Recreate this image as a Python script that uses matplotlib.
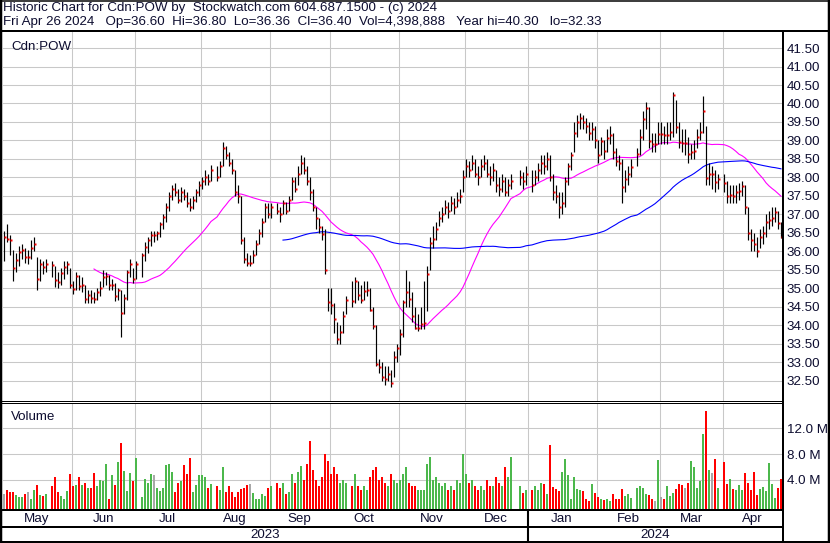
import numpy as np
import pandas as pd
import matplotlib
matplotlib.use("Agg")
import matplotlib.pyplot as plt
from matplotlib.lines import Line2D

plt.rcParams['font.family'] = ['Liberation Sans', 'DejaVu Sans']

# ---------------- data ----------------
holidays = ["2023-05-22", "2023-07-03", "2023-08-07", "2023-09-04", "2023-10-09",
            "2023-12-25", "2023-12-26", "2024-01-01", "2024-02-19", "2024-03-29"]
weekdays = pd.bdate_range("2023-05-01", "2024-04-26")
N = None

close = [
    36.38, 36.33, 36.30, 35.56, 35.76, 35.98, 36.05, 35.85, 35.85, 36.10,
    36.20, 35.25, 35.67, 35.58, 35.65, N, 35.63, 35.22, 35.18, 35.42,
    35.58, 35.65, 35.10, 34.98, 35.34, 35.06, 35.10, 34.71, 34.82, 34.74,
    34.71, 34.89, 35.01, 35.31, 35.33, 35.09, 35.10, 34.80, 34.95, 34.34,
    34.74, 35.44, 35.67, 35.25, 35.65, N, 35.91, 36.12, 36.32, 36.45,
    36.45, 36.50, 36.73, 36.93, 37.20, 37.50, 37.70, 37.60, 37.40, 37.60,
    37.50, 37.30, 37.20, 37.40, 37.60, 37.80, 37.90, 38.00, 37.90, 38.20,
    N, 38.00, 38.30, 38.80, 38.60, 38.40, 38.20, 37.60, 37.50, 36.30,
    35.80, 35.70, 35.70, 35.90, 36.20, 36.50, 36.80, 37.20, 37.00, 37.20,
    N, 37.10, 37.00, 37.30, 37.10, 37.40, 37.90, 37.70, 38.10, 38.40,
    38.20, 37.90, 37.60, 37.20, 36.90, 36.67, 36.46, 35.49, 34.64, 34.55,
    34.17, 33.63, 33.83, 34.26, 34.68, N, 34.66, 35.20, 34.82, 34.68,
    34.93, 34.96, 34.41, 33.98, 32.96, 32.87, 32.60, 32.55, 32.68, 32.45,
    33.15, 33.40, 33.77, 34.64, 34.91, 34.71, 34.25, 33.92, 33.93, 34.05,
    34.06, 35.40, 36.23, 36.33, 36.60, 36.90, 37.00, 37.20, 37.10, 37.30,
    37.20, 37.40, 37.50, 38.00, 38.30, 38.20, 38.40, 38.10, 38.00, 38.30,
    38.40, 38.10, 38.00, 38.20, 37.80, 37.70, 37.90, 37.60, 37.80, 37.90,
    N, N, 38.00, 37.90, 38.10, N, 37.80, 38.00, 38.20, 38.40,
    38.30, 38.50, 38.00, 37.60, 37.50, 37.20, 37.30, 37.90, 38.30, 38.60,
    39.20, 39.50, 39.60, 39.50, 39.40, 39.20, 39.30, 39.00, 38.60, 38.99,
    38.72, 39.07, 39.14, 38.69, 38.45, 38.40, 37.73, 37.96, 38.10, 38.29,
    N, 38.64, 39.10, 39.58, 39.89, 38.99, 38.90, 38.90, 39.17, 39.17,
    39.14, 39.15, 39.23, 40.22, 39.36, 38.97, 38.93, 38.93, 38.63, 38.70,
    38.72, 39.10, 39.23, 39.80, 37.98, 38.10, 38.10, 37.87, 37.96, N,
    37.85, 37.51, 37.53, 37.50, 37.60, 37.63, 37.78, 37.20, 36.50, 36.30,
    36.20, 36.00, 36.40, 36.50, 36.80, 36.84, 36.90, 37.07, 36.76, 36.40,
]

high = [
    36.55, 36.75, 36.45, 36.05, 35.95, 36.15, 36.20, 36.10, 36.05, 36.30,
    36.40, 35.85, 35.80, 35.75, 35.80, N, 35.75, 35.60, 35.45, 35.55,
    35.75, 35.75, 35.55, 35.20, 35.45, 35.35, 35.30, 35.10, 34.95, 34.95,
    34.90, 35.00, 35.20, 35.50, 35.45, 35.35, 35.25, 35.15, 35.00, 34.95,
    34.85, 35.50, 35.80, 35.55, 35.75, N, 35.95, 36.25, 36.40, 36.55,
    36.55, 36.55, 36.80, 37.00, 37.30, 37.60, 37.80, 37.85, 37.70, 37.75,
    37.70, 37.60, 37.45, 37.50, 37.70, 37.90, 38.00, 38.20, 38.10, 38.35,
    N, 38.30, 38.45, 38.95, 38.85, 38.70, 38.50, 38.20, 37.80, 37.50,
    36.40, 35.95, 35.90, 36.05, 36.30, 36.60, 36.90, 37.30, 37.30, 37.30,
    N, 37.30, 37.20, 37.40, 37.35, 37.50, 38.00, 38.00, 38.30, 38.60,
    38.55, 38.30, 38.00, 37.70, 37.20, 36.90, 36.70, 36.60, 35.00, 35.00,
    34.60, 34.10, 34.00, 34.40, 34.80, N, 35.20, 35.30, 35.20, 35.10,
    35.20, 35.20, 35.00, 34.50, 34.00, 33.10, 33.00, 32.90, 32.90, 32.80,
    33.30, 33.50, 33.90, 34.70, 35.50, 35.20, 34.90, 34.50, 34.30, 34.50,
    35.20, 35.60, 36.40, 36.70, 36.80, 37.10, 37.20, 37.40, 37.35, 37.50,
    37.45, 37.60, 37.70, 38.20, 38.50, 38.45, 38.60, 38.50, 38.30, 38.50,
    38.60, 38.50, 38.30, 38.40, 38.20, 38.00, 38.10, 38.00, 37.95, 38.10,
    N, N, 38.20, 38.15, 38.30, N, 38.20, 38.20, 38.40, 38.60,
    38.60, 38.70, 38.60, 38.10, 37.80, 37.60, 37.60, 38.00, 38.40, 38.70,
    39.50, 39.70, 39.75, 39.70, 39.60, 39.50, 39.50, 39.40, 39.00, 39.10,
    39.00, 39.30, 39.40, 39.20, 38.80, 38.60, 38.50, 38.20, 38.30, 38.50,
    N, 38.80, 39.30, 39.80, 40.05, 39.90, 39.20, 39.20, 39.50, 39.50,
    39.40, 39.50, 39.50, 40.30, 40.10, 39.50, 39.30, 39.30, 39.10, 38.90,
    39.00, 39.30, 39.50, 40.20, 39.40, 38.40, 38.30, 38.20, 38.10, N,
    38.10, 37.90, 37.80, 37.80, 37.80, 37.85, 37.90, 37.80, 37.20, 36.60,
    36.50, 36.40, 36.60, 36.70, 37.00, 37.10, 37.20, 37.20, 37.10, 36.80,
]

low = [
    35.75, 36.25, 35.90, 35.20, 35.45, 35.60, 35.80, 35.70, 35.65, 35.80,
    36.00, 34.95, 35.20, 35.40, 35.45, N, 35.30, 35.05, 35.00, 35.10,
    35.25, 35.40, 35.00, 34.85, 34.95, 34.95, 34.90, 34.60, 34.60, 34.60,
    34.60, 34.70, 34.80, 35.05, 35.10, 34.95, 34.95, 34.65, 34.70, 33.70,
    34.30, 34.70, 35.30, 35.15, 35.25, N, 35.30, 35.75, 35.95, 36.15,
    36.25, 36.30, 36.40, 36.60, 36.80, 37.10, 37.40, 37.50, 37.30, 37.35,
    37.40, 37.20, 37.10, 37.15, 37.35, 37.50, 37.70, 37.80, 37.80, 37.90,
    N, 37.90, 38.00, 38.30, 38.50, 38.30, 38.10, 37.50, 37.30, 36.20,
    35.70, 35.60, 35.60, 35.70, 35.90, 36.20, 36.40, 36.80, 36.90, 36.90,
    N, 37.00, 36.80, 37.00, 37.00, 37.10, 37.40, 37.60, 37.80, 38.10,
    38.10, 37.80, 37.40, 37.10, 36.60, 36.50, 36.30, 35.40, 34.40, 34.30,
    33.80, 33.50, 33.50, 33.80, 34.30, N, 34.50, 34.60, 34.70, 34.60,
    34.70, 34.80, 34.40, 33.90, 32.90, 32.70, 32.50, 32.40, 32.50, 32.33,
    32.60, 33.00, 33.20, 33.70, 34.50, 34.50, 34.10, 33.90, 33.85, 33.90,
    33.90, 34.40, 35.50, 36.10, 36.30, 36.70, 36.80, 37.00, 36.90, 37.10,
    37.00, 37.20, 37.30, 37.60, 38.00, 38.00, 38.20, 38.00, 37.80, 38.00,
    38.20, 38.00, 37.80, 37.90, 37.60, 37.50, 37.60, 37.50, 37.50, 37.70,
    N, N, 37.80, 37.70, 37.80, N, 37.60, 37.80, 37.90, 38.10,
    38.10, 38.20, 37.90, 37.40, 37.30, 36.90, 37.00, 37.20, 37.80, 38.20,
    38.70, 39.10, 39.30, 39.30, 39.20, 39.00, 39.00, 38.80, 38.40, 38.60,
    38.50, 38.70, 38.90, 38.50, 38.30, 38.20, 37.30, 37.60, 37.80, 38.00,
    N, 38.30, 38.60, 39.00, 39.30, 38.80, 38.70, 38.70, 38.90, 38.90,
    38.90, 38.90, 39.00, 39.10, 39.20, 38.80, 38.70, 38.60, 38.40, 38.50,
    38.50, 38.80, 39.00, 39.20, 37.80, 37.80, 37.70, 37.60, 37.70, N,
    37.60, 37.30, 37.30, 37.30, 37.30, 37.40, 37.50, 37.00, 36.30, 36.00,
    36.00, 35.85, 36.10, 36.20, 36.40, 36.60, 36.70, 36.80, 36.60, 36.36,
]

volume_m = [
    1.9, 2.4, 2.2, 2.2, 1.6, 1.3, 1.3, 1.8, 2.1, 1.0,
    2.5, 3.3, 1.6, 1.5, 1.9, N, 3.1, 4.4, 2.1, 1.5,
    1.0, 2.3, 5.0, 3.0, 3.2, 4.4, 3.3, 3.5, 2.7, 2.8,
    5.1, 3.0, 4.0, 3.9, 6.5, 1.0, 4.8, 3.3, 6.8, 9.7,
    5.4, 2.3, 5.1, 3.9, 7.4, N, 1.3, 4.1, 3.6, 5.0,
    4.7, 2.8, 2.3, 2.8, 6.3, 6.5, 5.3, 2.1, 3.6, 3.9,
    6.4, 5.0, 7.4, 2.1, 3.3, 4.8, 4.8, 4.5, 2.7, 3.4,
    N, 3.0, 2.4, 6.0, 2.2, 3.0, 2.1, 1.3, 2.2, 2.6,
    2.8, 3.3, 3.4, 2.0, 1.0, 1.1, 1.9, 1.5, 2.8, 3.1,
    N, 3.6, 2.7, 3.6, 1.9, 2.1, 4.9, 3.6, 5.2, 6.1,
    4.0, 6.5, 10.0, 5.5, 4.0, 3.0, 4.5, 8.0, 7.0, 5.0,
    6.0, 5.0, 3.5, 4.0, 3.5, N, 3.0, 5.0, 3.0, 2.5,
    3.0, 2.5, 4.5, 5.5, 6.0, 4.0, 4.5, 3.5, 3.0, 5.0,
    4.0, 3.5, 4.0, 5.0, 6.0, 3.5, 3.0, 3.0, 2.5, 2.5,
    2.5, 6.5, 7.5, 4.0, 4.5, 3.5, 3.0, 3.5, 2.5, 3.0,
    2.5, 4.0, 3.5, 8.0, 5.0, 3.5, 4.0, 3.0, 2.5, 3.0,
    2.5, 4.0, 3.0, 3.0, 4.5, 3.5, 3.0, 6.0, 4.5, 7.5,
    N, N, 3.0, 2.0, 2.5, N, 2.5, 3.0, 2.5, 3.5,
    3.4, 1.9, 9.4, 2.9, 2.6, 2.3, 5.3, 7.3, 4.8, 1.0,
    4.4, 2.6, 2.4, 2.3, 1.1, 0.7, 3.4, 2.0, 1.4, 1.0,
    0.9, 1.1, 0.8, 1.9, 1.1, 1.0, 2.6, 1.5, 1.9, 1.2,
    N, 2.8, 3.1, 2.7, 1.9, 1.7, 1.0, 0.7, 7.1, 1.4,
    1.1, 3.1, 1.5, 2.0, 2.6, 3.4, 3.2, 2.8, 3.5, 7.0,
    6.0, 2.8, 3.9, 11.1, 14.7, 5.6, 5.1, 7.3, 2.8, N,
    6.8, 3.4, 4.2, 2.6, 2.5, 3.3, 2.5, 5.1, 3.5, 2.5,
    5.3, 1.6, 2.6, 2.9, 2.3, 6.6, 3.4, 1.2, 2.8, 4.2,
]

price_ticks = [32.5, 33.0, 33.5, 34.0, 34.5, 35.0, 35.5, 36.0, 36.5, 37.0,
               37.5, 38.0, 38.5, 39.0, 39.5, 40.0, 40.5, 41.0, 41.5]
vol_ticks = [4e6, 8e6, 12e6]
vol_tick_labels = ["4.0 M", "8.0 M", "12.0 M"]
title_line1 = "Historic Chart for Cdn:POW by  Stockwatch.com 604.687.1500 - (c) 2024"
title_line2 = ("Fri Apr 26 2024   Op=36.60  Hi=36.80  Lo=36.36  Cl=36.40  "
               "Vol=4,398,888   Year hi=40.30   lo=32.33")

# ---------------- prep ----------------
df = pd.DataFrame({"date": weekdays, "close": close, "high": high,
                   "low": low, "vol": volume_m}, dtype=object)
df["x"] = np.arange(len(df))
for c in ["close", "high", "low", "vol"]:
    df[c] = pd.to_numeric(df[c])
td = df.dropna(subset=["close"]).reset_index(drop=True)
td["ma30"] = td["close"].rolling(30).mean()
td["ma90"] = td["close"].rolling(90).mean()
chg = td["close"].diff()
vcol = np.where(chg > 1e-9, "#4cb84c", np.where(chg < -1e-9, "#ff0000", "#a8a8a8"))
vcol[0] = "#a8a8a8"

# ---------------- figure ----------------
W, H = 830, 543
fig = plt.figure(figsize=(W / 100, H / 100), dpi=100)
fig.patch.set_facecolor("white")


def fx(px):
    return px / W


def fy(py):
    return 1 - py / H


def add_axes(x0, y0, x1, y1):
    a = fig.add_axes([fx(x0), fy(y1), fx(x1) - fx(x0), fy(y0) - fy(y1)])
    for s in a.spines.values():
        s.set_visible(False)
    return a


XL, XR = 2.5, 782.5
ax_p = add_axes(XL, 31, XR, 400.5)
ax_v = add_axes(XL, 403.5, XR, 509.5)
ax_m = add_axes(XL, 510, XR, 527)
ax_y = add_axes(XL, 527, XR, 542)

xlim = (-0.5, len(df) - 0.5)
for a in (ax_p, ax_v, ax_m, ax_y):
    a.set_xlim(*xlim)
    a.set_xticks([])
ax_m.set_yticks([]); ax_y.set_yticks([])
ax_m.set_ylim(0, 1); ax_y.set_ylim(0, 1)

grid_c = "#c8c8c8"
txt_c = "#0d0d30"
fs = 9.6

# month boundaries (first weekday of month, rolled back to Friday when weekend)
months = pd.date_range("2023-05-01", "2024-04-01", freq="MS")
bounds = []
for m in months:
    d = m
    while d.weekday() >= 5:
        d -= pd.Timedelta(days=1)
    bounds.append(int(np.searchsorted(df["date"].values, np.datetime64(d))) - 0.5)
edges = bounds + [len(df) - 0.5]
for b in bounds[1:]:
    ax_p.axvline(b, color=grid_c, lw=0.75, zorder=0)
    ax_v.axvline(b, color=grid_c, lw=0.75, zorder=0)
for i, m in enumerate(months):
    ax_m.text((edges[i] + edges[i + 1]) / 2, 0.45, m.strftime("%b"),
              ha="center", va="center", fontsize=fs, color=txt_c)

# year labels
yb = bounds[8]
ax_y.text((xlim[0] + yb) / 2, 0.45, "2023", ha="center", va="center", fontsize=fs, color=txt_c)
ax_y.text((yb + xlim[1]) / 2, 0.45, "2024", ha="center", va="center", fontsize=fs, color=txt_c)
ax_y.axvline(yb, color="black", lw=1.5)
ax_m.axvline(yb, color="black", lw=1.5)

# price panel
ax_p.set_ylim(31.97, 41.96)
for t in price_ticks:
    ax_p.axhline(t, color=grid_c, lw=0.75, zorder=0)
ax_p.yaxis.tick_right()
ax_p.set_yticks(price_ticks)
ax_p.set_yticklabels([f"{t:.2f}" for t in price_ticks])
ax_p.tick_params(axis="y", length=0, pad=3.2, labelsize=fs, labelcolor=txt_c)
ax_p.vlines(td["x"], td["low"], td["high"], color="black", lw=0.85, zorder=3)
ax_p.plot(td["x"] + 0.4, td["close"], "s", ms=1.7, color="#ff0000", mec="none", zorder=4)
ax_p.plot(td["x"], td["ma30"], color="#ff00ff", lw=0.8, zorder=2)
ax_p.plot(td["x"], td["ma90"], color="#0000ff", lw=0.8, zorder=2)
ax_p.text(0.011, 0.972, "Cdn:POW", transform=ax_p.transAxes, ha="left", va="top",
          fontsize=fs, color=txt_c)

# volume panel
vbot = -0.57e6
ax_v.set_ylim(vbot, 15.85e6)
for t in vol_ticks:
    ax_v.axhline(t, color=grid_c, lw=0.75, zorder=0)
ax_v.bar(td["x"], td["vol"] * 1e6 - vbot, bottom=vbot, width=0.68, color=vcol, zorder=2)
ax_v.yaxis.tick_right()
ax_v.set_yticks(vol_ticks)
ax_v.set_yticklabels(vol_tick_labels)
ax_v.tick_params(axis="y", length=0, pad=3.2, labelsize=fs, labelcolor=txt_c)
ax_v.text(0.011, 0.93, "Volume", transform=ax_v.transAxes, ha="left", va="top",
          fontsize=fs, color=txt_c)

# titles
fig.text(fx(3), fy(8), title_line1, ha="left", va="center", fontsize=fs, color=txt_c)
fig.text(fx(3), fy(22), title_line2, ha="left", va="center", fontsize=fs, color=txt_c)


# frame lines (pixel coordinates)
def pline(x0, y0, x1, y1, lw_px):
    fig.add_artist(Line2D([fx(x0), fx(x1)], [fy(y0), fy(y1)], color="black",
                          lw=lw_px * 0.72, solid_capstyle="butt"))


pline(0, 0.5, W, 0.5, 1.5)
pline(0, 542, W, 542, 2)
pline(0.8, 0, 0.8, H, 2.5)
pline(828.8, 0, 828.8, H, 2.5)
pline(0, 30.5, W, 30.5, 2)
pline(782.5, 30, 782.5, H, 2)
pline(0, 400.5, 782.5, 400.5, 1)
pline(0, 403.3, 782.5, 403.3, 1)
pline(0, 510, 782.5, 510, 2)
pline(0, 527, 782.5, 527, 2)

fig.savefig("out.png", dpi=100)
